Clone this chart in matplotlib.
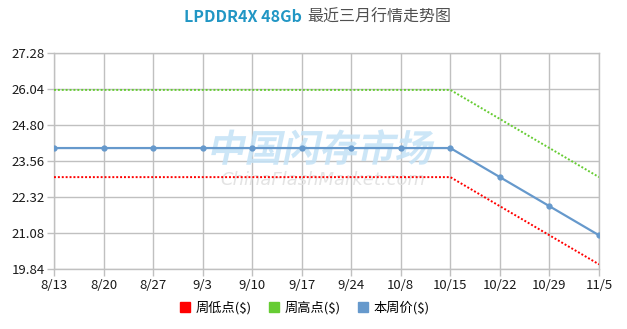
import matplotlib
matplotlib.use('Agg')
import matplotlib.pyplot as plt
from matplotlib.patches import Patch, PathPatch
from matplotlib.textpath import TextPath
from matplotlib.font_manager import FontProperties
from matplotlib.transforms import Affine2D

plt.rcParams['font.family'] = ['Noto Sans CJK SC', 'DejaVu Sans']

# data
weeks = ['8/13', '8/20', '8/27', '9/3', '9/10', '9/17', '9/24', '10/8', '10/15', '10/22', '10/29', '11/5']
week_low = [23.0, 23.0, 23.0, 23.0, 23.0, 23.0, 23.0, 23.0, 23.0, 22.0, 21.0, 20.0]
week_high = [26.0, 26.0, 26.0, 26.0, 26.0, 26.0, 26.0, 26.0, 26.0, 25.0, 24.0, 23.0]
week_price = [24.0, 24.0, 24.0, 24.0, 24.0, 24.0, 24.0, 24.0, 24.0, 23.0, 22.0, 21.0]
y_ticks = [19.84, 21.08, 22.32, 23.56, 24.80, 26.04, 27.28]

red = '#ff0000'
green = '#66cc33'
blue = '#6699cc'
grid_c = '#c0c0c0'

W, H = 627, 329
fig = plt.figure(figsize=(W / 100, H / 100), dpi=100)
ax = fig.add_axes([54 / W, 1 - 269 / H, 545 / W, 216.3 / H])

x = list(range(len(weeks)))

# watermark: slanted chinese logo text + site name
fp = FontProperties(family='Noto Sans CJK SC', weight='bold')
tp = TextPath((0, 0), '中国闪存市场', size=27, prop=fp)
ext = tp.get_extents()
cx, cy = (ext.x0 + ext.x1) / 2, (ext.y0 + ext.y1) / 2
wm_t = (Affine2D().translate(-cx, -cy).skew_deg(12, 0).scale(100 / 72)
        .translate(323, H - 147))
ax.add_patch(PathPatch(tp, transform=wm_t, facecolor='#c4e2f6', edgecolor='none',
                       alpha=0.85, zorder=1.5, clip_on=False))
ax.text(0.494, 0.411, 'ChinaFlashMarket.com', transform=ax.transAxes, fontsize=13,
        color='#e3e3e3', ha='center', va='center', family='DejaVu Sans',
        style='italic', zorder=1.5)

ax.plot(x, week_low, color=red, lw=1.4, ls=(0, (1, 1)), zorder=3)
ax.plot(x, week_high, color=green, lw=1.4, ls=(0, (1, 1)), zorder=3)
ax.plot(x, week_price, color=blue, lw=1.6, marker='o', ms=3.5, zorder=4)

ax.set_xlim(0, len(weeks) - 1)
ax.set_ylim(y_ticks[0], y_ticks[-1])
ax.set_xticks(x)
ax.set_xticklabels(weeks)
ax.set_yticks(y_ticks)
ax.set_yticklabels([f'{v:.2f}' for v in y_ticks])
ax.tick_params(axis='both', labelsize=9.5, colors=grid_c, labelcolor='#1a1a1a',
               length=5, width=1)
ax.tick_params(axis='y', pad=1.5)
ax.tick_params(axis='x', pad=2.5)
ax.grid(True, color=grid_c, lw=1)
ax.set_axisbelow(True)
for s in ax.spines.values():
    s.set_color(grid_c)
    s.set_linewidth(1)

# title in two colours
fig.text(302 / W, 1 - 17 / H, 'LPDDR4X 48Gb', fontsize=11.5, fontweight='bold',
         color='#2196c4', ha='right', va='center')
fig.text(307 / W, 1 - 17 / H, '最近三月行情走势图', fontsize=11.5,
         color='#505050', ha='left', va='center')

handles = [Patch(color=red, label='周低点($)'),
           Patch(color=green, label='周高点($)'),
           Patch(color=blue, label='本周价($)')]
fig.legend(handles=handles, loc='center', bbox_to_anchor=(305 / W, 1 - 308 / H),
           ncol=3, frameon=False, fontsize=9.5, handlelength=0.75, handleheight=0.75,
           handletextpad=0.45, columnspacing=1.3)

fig.savefig('out.png', dpi=100)
